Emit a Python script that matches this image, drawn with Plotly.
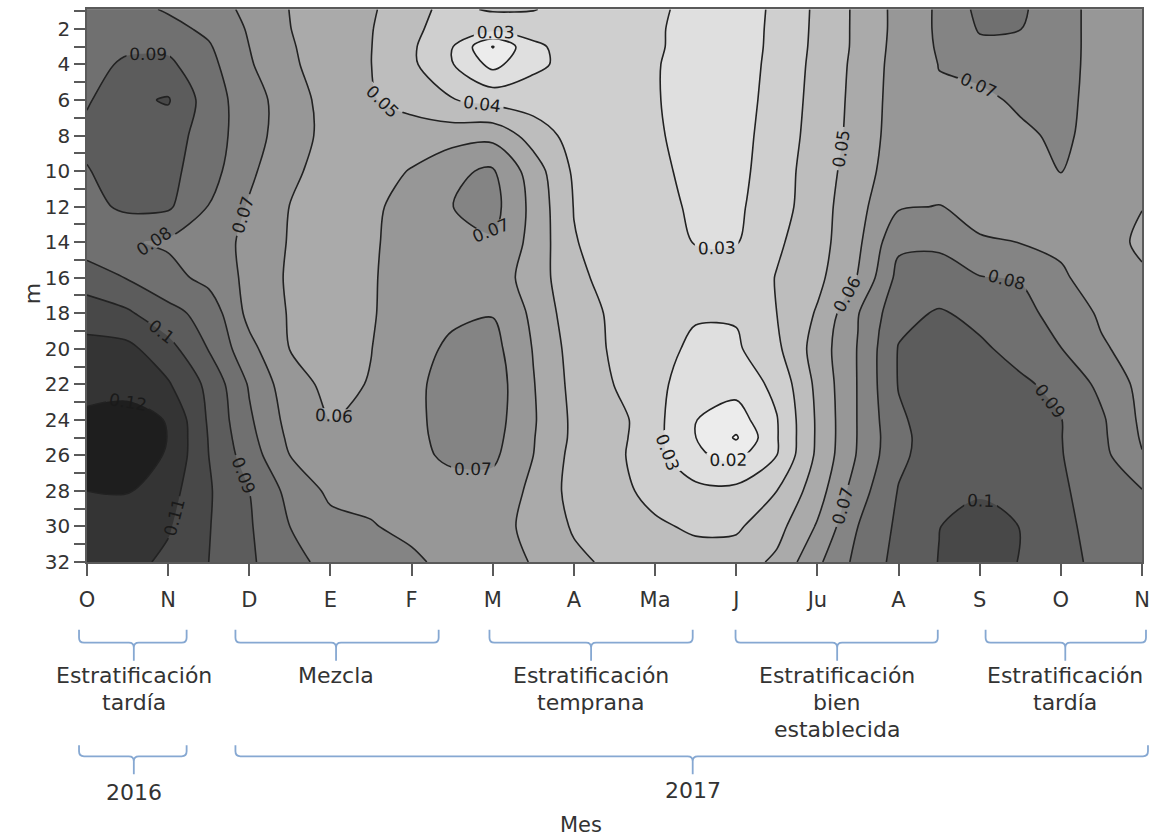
import plotly.graph_objects as go

# ---------------- data ----------------
months = ["O", "N", "D", "E", "F", "M", "A", "Ma", "J", "Ju", "A", "S", "O", "N"]
month_pos = list(range(len(months)))
x_pos = [i * 0.5 for i in range(27)]          # half-month sampling positions
depths = [0.9, 2, 3, 4, 6, 8, 10, 12, 14, 16, 18, 20, 22, 24, 25, 26, 28, 30, 32]

# one vertical profile (values at `depths`) per half-month position
profiles = [
    [0.085, 0.086, 0.087, 0.088, 0.0888, 0.093, 0.0893, 0.087, 0.085, 0.0947, 0.1055, 0.113, 0.1175, 0.1215, 0.124, 0.1245, 0.120, 0.117, 0.115],
    [0.083, 0.086, 0.089, 0.091, 0.098, 0.097, 0.096, 0.092, 0.081, 0.0895, 0.1015, 0.1125, 0.117, 0.1235, 0.126, 0.126, 0.1205, 0.116, 0.113],
    [0.079, 0.083, 0.088, 0.092, 0.1008, 0.095, 0.093, 0.0915, 0.0785, 0.0835, 0.093, 0.1037, 0.111, 0.1195, 0.1198, 0.119, 0.114, 0.111, 0.108],
    [0.074, 0.078, 0.081, 0.083, 0.085, 0.085, 0.084, 0.0797, 0.074, 0.077, 0.0865, 0.0895, 0.0975, 0.0987, 0.0995, 0.100, 0.101, 0.1005, 0.100],
    [0.068, 0.069, 0.070, 0.071, 0.0745, 0.0745, 0.072, 0.069, 0.068, 0.0675, 0.067, 0.073, 0.079, 0.0815, 0.083, 0.085, 0.090, 0.091, 0.0915],
    [0.0598, 0.0602, 0.061, 0.062, 0.0647, 0.0643, 0.062, 0.0598, 0.0592, 0.0585, 0.0593, 0.0598, 0.064, 0.0665, 0.068, 0.070, 0.077, 0.080, 0.083],
    [0.055, 0.054, 0.0545, 0.054, 0.056, 0.057, 0.056, 0.055, 0.0545, 0.054, 0.054, 0.055, 0.0575, 0.0598, 0.0615, 0.064, 0.068, 0.073, 0.077],
    [0.0515, 0.0505, 0.0502, 0.0501, 0.0508, 0.0535, 0.0565, 0.0585, 0.0588, 0.0592, 0.0592, 0.0598, 0.0605, 0.0635, 0.065, 0.0665, 0.068, 0.0705, 0.074],
    [0.042, 0.0418, 0.0415, 0.0418, 0.046, 0.0555, 0.0605, 0.063, 0.064, 0.064, 0.065, 0.067, 0.0685, 0.0685, 0.0685, 0.068, 0.0675, 0.068, 0.0715],
    [0.038, 0.036, 0.0305, 0.0305, 0.0405, 0.0555, 0.0685, 0.0699, 0.066, 0.065, 0.0685, 0.0715, 0.0725, 0.0725, 0.072, 0.0715, 0.067, 0.066, 0.0675],
    [0.041, 0.033, 0.0095, 0.017, 0.037, 0.057, 0.0712, 0.0735, 0.069, 0.065, 0.0695, 0.0735, 0.0755, 0.0745, 0.0735, 0.072, 0.066, 0.064, 0.0635],
    [0.0405, 0.034, 0.028, 0.028, 0.035, 0.046, 0.055, 0.057, 0.057, 0.056, 0.058, 0.0595, 0.0605, 0.061, 0.0605, 0.060, 0.058, 0.057, 0.0595],
    [0.036, 0.034, 0.034, 0.033, 0.034, 0.036, 0.0385, 0.0397, 0.0405, 0.042, 0.044, 0.046, 0.047, 0.048, 0.048, 0.047, 0.0465, 0.049, 0.052],
    [0.034, 0.033, 0.0325, 0.032, 0.032, 0.033, 0.034, 0.035, 0.036, 0.037, 0.0385, 0.0385, 0.0398, 0.044, 0.0435, 0.0425, 0.043, 0.046, 0.048],
    [0.0315, 0.031, 0.031, 0.0305, 0.0305, 0.031, 0.032, 0.033, 0.034, 0.035, 0.0345, 0.0335, 0.033, 0.033, 0.033, 0.0335, 0.037, 0.0415, 0.045],
    [0.0275, 0.0272, 0.027, 0.027, 0.027, 0.027, 0.0275, 0.0285, 0.0297, 0.032, 0.031, 0.028, 0.024, 0.0202, 0.0201, 0.0215, 0.033, 0.0385, 0.044],
    [0.026, 0.026, 0.026, 0.026, 0.026, 0.0265, 0.027, 0.0282, 0.0297, 0.032, 0.031, 0.0285, 0.024, 0.015, 0.009, 0.017, 0.033, 0.0385, 0.045],
    [0.0315, 0.0318, 0.032, 0.0325, 0.0335, 0.0345, 0.0355, 0.036, 0.0385, 0.0405, 0.040, 0.038, 0.0325, 0.0295, 0.0293, 0.030, 0.040, 0.0465, 0.052],
    [0.042, 0.0422, 0.0425, 0.043, 0.0435, 0.044, 0.045, 0.0455, 0.046, 0.0475, 0.051, 0.0543, 0.0525, 0.0515, 0.0515, 0.052, 0.0555, 0.061, 0.068],
    [0.052, 0.052, 0.052, 0.0525, 0.053, 0.0535, 0.055, 0.057, 0.058, 0.0605, 0.0695, 0.0705, 0.0705, 0.0705, 0.0705, 0.071, 0.0755, 0.080, 0.083],
    [0.063, 0.063, 0.0635, 0.064, 0.0645, 0.065, 0.066, 0.069, 0.078, 0.083, 0.087, 0.0905, 0.0905, 0.0885, 0.0875, 0.088, 0.0905, 0.092, 0.093],
    [0.0715, 0.0715, 0.071, 0.0702, 0.069, 0.068, 0.067, 0.0703, 0.0785, 0.0835, 0.091, 0.093, 0.094, 0.095, 0.095, 0.095, 0.096, 0.0998, 0.1003],
    [0.0825, 0.0808, 0.078, 0.0735, 0.0675, 0.066, 0.065, 0.066, 0.0712, 0.0805, 0.0875, 0.0915, 0.094, 0.095, 0.0955, 0.096, 0.0988, 0.104, 0.106],
    [0.0815, 0.0802, 0.077, 0.075, 0.0718, 0.068, 0.066, 0.066, 0.0698, 0.0795, 0.083, 0.087, 0.0915, 0.093, 0.0935, 0.094, 0.096, 0.0998, 0.0995],
    [0.074, 0.074, 0.074, 0.0738, 0.073, 0.072, 0.0702, 0.066, 0.068, 0.0715, 0.0765, 0.0802, 0.0875, 0.0903, 0.0903, 0.0905, 0.0915, 0.092, 0.0925],
    [0.066, 0.066, 0.066, 0.066, 0.066, 0.066, 0.065, 0.063, 0.0635, 0.065, 0.0685, 0.0712, 0.0775, 0.0815, 0.082, 0.083, 0.085, 0.087, 0.088],
    [0.064, 0.064, 0.064, 0.064, 0.0635, 0.063, 0.062, 0.0602, 0.0585, 0.0612, 0.064, 0.066, 0.067, 0.068, 0.069, 0.0705, 0.0805, 0.083, 0.085],
]

season_lines = [
    ["Estratificación", "tardía"],
    ["Mezcla"],
    ["Estratificación", "temprana"],
    ["Estratificación", "bien", "establecida"],
    ["Estratificación", "tardía"],
]
years = ["2016", "2017"]

# ---------------- styling / layout geometry ----------------
W, H = 1157, 839
ML, MR, MT, MB = 87, 11, 7, 277
PW, PH = W - ML - MR, H - MT - MB

def px(x):
    return (x - ML) / PW

def py(y):
    return (H - MB - y) / PH

band_colors = ["#f7f7f7", "#ececec", "#dfdfdf", "#cfcfcf", "#bdbdbd", "#aaaaaa",
               "#979797", "#848484", "#707070", "#5c5c5c", "#484848", "#343434", "#1e1e1e"]
colorscale = [[i / (len(band_colors) - 1), c] for i, c in enumerate(band_colors)]

z = [list(row) for row in zip(*profiles)]

fig = go.Figure()
fig.add_trace(go.Contour(
    x=x_pos, y=depths, z=z,
    autocontour=False,
    contours=dict(start=0.01, end=0.12, size=0.01, coloring="fill",
                  showlabels=True,
                  labelfont=dict(family="DejaVu Sans", size=17, color="#1a1a1a"),
                  labelformat=".2~f"),
    colorscale=colorscale,
    line=dict(color="#222222", width=1.6, smoothing=0.9),
    showscale=False,
    hoverinfo="skip",
))

axis_col = "#5a5a5a"
fig.update_layout(
    width=W, height=H,
    margin=dict(l=ML, r=MR, t=MT, b=MB),
    paper_bgcolor="white", plot_bgcolor="white",
    font=dict(family="DejaVu Sans", color="#333333"),
    showlegend=False,
    xaxis=dict(range=[0, 13], tickmode="array", tickvals=month_pos, ticktext=months,
               ticks="outside", ticklen=12, tickwidth=1.5, tickcolor=axis_col,
               showline=True, linecolor=axis_col, linewidth=1.5, mirror=True,
               showgrid=False, zeroline=False,
               tickfont=dict(size=21, color="#333333"), ticklabelstandoff=6),
    yaxis=dict(range=[32, 0.88], tickmode="linear", tick0=0, dtick=2,
               ticks="outside", ticklen=11, tickwidth=1.5, tickcolor=axis_col,
               minor=dict(dtick=1, tick0=0, ticks="outside", ticklen=11, tickwidth=1.5, tickcolor=axis_col),
               showline=True, linecolor=axis_col, linewidth=1.5, mirror=True,
               showgrid=False, zeroline=False,
               tickfont=dict(size=20, color="#333333")),
)

# braces
brace_col = "#86a8d2"

def brace_path(x0, x1, xc, yt, yl, ys, r=5):
    return (f"M {px(x0)},{py(yt)} L {px(x0)},{py(yl - r)} Q {px(x0)},{py(yl)} {px(x0 + r)},{py(yl)} "
            f"L {px(xc - r)},{py(yl)} Q {px(xc)},{py(yl)} {px(xc)},{py(yl + r)} L {px(xc)},{py(ys)} "
            f"M {px(xc)},{py(yl + r)} Q {px(xc)},{py(yl)} {px(xc + r)},{py(yl)} "
            f"L {px(x1 - r)},{py(yl)} Q {px(x1)},{py(yl)} {px(x1)},{py(yl - r)} L {px(x1)},{py(yt)}")

season_spans = [(79, 187, 134), (236, 440, 337), (491, 695, 593), (738, 941, 840), (989, 1150, 1069)]
year_spans = [(79, 187, 134), (236, 1152, 695)]

shapes = []
for (a, b, c) in season_spans:
    shapes.append(dict(type="path", xref="paper", yref="paper",
                       path=brace_path(a, b, c, 630, 643, 661),
                       line=dict(color=brace_col, width=1.8)))
for (a, b, c) in year_spans:
    shapes.append(dict(type="path", xref="paper", yref="paper",
                       path=brace_path(a, b, c, 746, 757, 775),
                       line=dict(color=brace_col, width=1.8)))
fig.update_layout(shapes=shapes)

annos = []
line_y = [676, 703, 730]
for (a, b, c), lines in zip(season_spans, season_lines):
    for k, t in enumerate(lines):
        annos.append(dict(text=t, x=px(c), y=py(line_y[k]), xref="paper", yref="paper",
                          showarrow=False, xanchor="center", yanchor="middle",
                          font=dict(size=22, color="#333333")))
year_y = [793, 791]
for (a, b, c), t, yy in zip(year_spans, years, year_y):
    annos.append(dict(text=t, x=px(c), y=py(yy), xref="paper", yref="paper",
                      showarrow=False, xanchor="center", yanchor="middle",
                      font=dict(size=22, color="#333333")))
annos.append(dict(text="Mes", x=px(583), y=py(826), xref="paper", yref="paper",
                  showarrow=False, xanchor="center", yanchor="middle",
                  font=dict(size=21, color="#333333")))
annos.append(dict(text="m", x=px(33), y=py(293), xref="paper", yref="paper",
                  showarrow=False, xanchor="center", yanchor="middle", textangle=-90,
                  font=dict(size=22, color="#333333")))
fig.update_layout(annotations=annos)

fig.write_html("out.html", config={"displayModeBar": False},
               post_script="document.body.style.margin='0';document.body.style.overflow='hidden';")
